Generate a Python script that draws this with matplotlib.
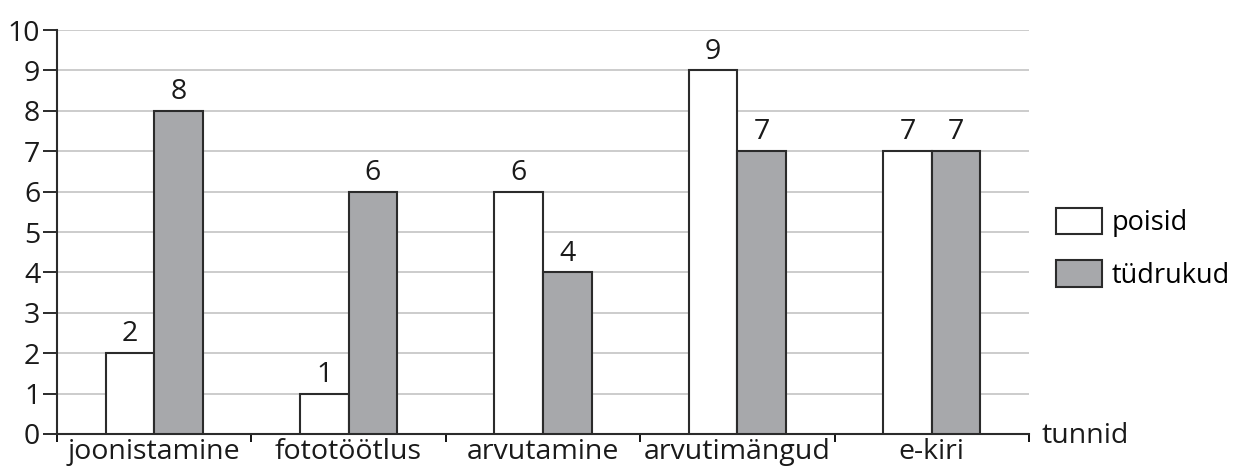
import numpy as np
import matplotlib
matplotlib.use("Agg")
import matplotlib.pyplot as plt
from matplotlib.patches import Patch

categories = ["joonistamine", "fototöötlus", "arvutamine", "arvutimängud", "e-kiri"]
poisid = [2, 1, 6, 9, 7]
tudrukud = [8, 6, 4, 7, 7]

plt.rcParams['font.family'] = ['Open Sans', 'DejaVu Sans']
fs = 20.5
txt = "#1a1a1a"

fig = plt.figure(figsize=(12.42, 4.70), dpi=100)
ax = fig.add_axes([0.0459, 0.0766, 0.7826, 0.8594])

x = np.arange(len(categories)) + 0.5
w = 0.25
edge = "#2b2b2b"
b1 = ax.bar(x - w, poisid, w, align="edge", color="white", edgecolor=edge, linewidth=1.5, zorder=3)
b2 = ax.bar(x, tudrukud, w, align="edge", color="#a7a8ab", edgecolor=edge, linewidth=1.5, zorder=3)

for bars, vals in ((b1, poisid), (b2, tudrukud)):
    for r, v in zip(bars, vals):
        ax.text(r.get_x() + r.get_width() / 2, v + 0.12, str(v), ha="center", va="bottom",
                fontsize=fs, color=txt)

ax.set_xlim(0, 5)
ax.set_ylim(0, 10)
ax.set_yticks(range(11))
ax.tick_params(axis="y", labelsize=fs, length=10, width=1.3, direction="out", pad=2, colors=txt)
ax.yaxis.grid(True, color="#c8c8c8", linewidth=1.3, zorder=0)

ax.set_xticks(range(6))
ax.set_xticklabels([])
ax.set_xticks(x, minor=True)
ax.set_xticklabels(categories, minor=True, fontsize=fs, color=txt)
ax.tick_params(axis="x", which="major", length=6, width=1.3, direction="out")
ax.tick_params(axis="x", which="minor", length=0, pad=3)

for s in ("top", "right"):
    ax.spines[s].set_visible(False)
for s in ("left", "bottom"):
    ax.spines[s].set_linewidth(1.5)
    ax.spines[s].set_color("#2b2b2b")

ax.text(1.013, -0.005, "tunnid", transform=ax.transAxes, ha="left", va="center", fontsize=fs, color=txt)

lfs = 19.5
handles = [Patch(facecolor="white", edgecolor=edge, linewidth=1.5),
           Patch(facecolor="#a7a8ab", edgecolor=edge, linewidth=1.5)]
fig.legend(handles, ["poisid", "tüdrukud"], loc="center left", bbox_to_anchor=(1056 / 1242, 0.471),
           frameon=False, fontsize=lfs, handlelength=33 / lfs, handleheight=22 / lfs,
           labelspacing=0.85, handletextpad=0.35, borderpad=0, borderaxespad=0)

fig.savefig("out.png", dpi=100)
